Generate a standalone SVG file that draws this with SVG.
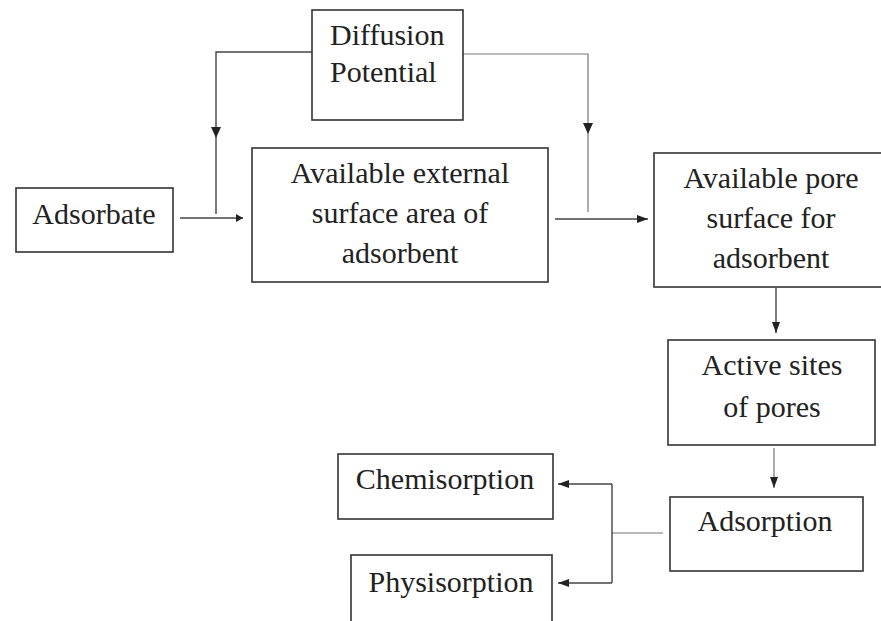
<svg xmlns="http://www.w3.org/2000/svg" width="881" height="621" viewBox="0 0 881 621">
<defs>
<style>
.box{fill:#fff;stroke:#333;stroke-width:1.6}
.c{fill:none;stroke:#444;stroke-width:1.4}
.cl{fill:none;stroke:#777;stroke-width:1.2}
.ah{fill:#222}
</style>
<marker id="a" markerUnits="userSpaceOnUse" markerWidth="12" markerHeight="10" refX="11" refY="5" orient="auto">
<path d="M0,1 L11,5 L0,9 z" fill="#222"/>
</marker>
<marker id="s" markerUnits="userSpaceOnUse" markerWidth="8" markerHeight="10" refX="7" refY="5" orient="auto">
<path d="M0,1 L7,5 L0,9 z" fill="#222"/>
</marker>
</defs>
<rect width="881" height="621" fill="#fff"/>
<g id="connectors">
<path class="c" d="M312,52 H216 V214"/>
<path class="ah" d="M211,127 L221,127 L216,138 z"/>
<path class="cl" d="M463,54 H588 V212"/>
<path class="ah" d="M583,123 L593,123 L588,134 z"/>
<path class="c" d="M180,218 H243" marker-end="url(#s)"/>
<path class="c" d="M555,219 H648" marker-end="url(#a)"/>
<path class="c" d="M776,288 V333" marker-end="url(#a)"/>
<path class="cl" d="M774,448 V488" marker-end="url(#a)"/>
<path class="cl" d="M663,533 H612"/>
<path class="c" d="M612,484 V583"/>
<path class="c" d="M612,484 H558" marker-end="url(#a)"/>
<path class="c" d="M612,583 H558" marker-end="url(#a)"/>
</g>
<g id="diffusion">
<rect class="box" x="312" y="10" width="151" height="110"/>
<text x="330" y="45" font-family="Liberation Serif" font-size="30" fill="#222">Diffusion</text>
<text x="330" y="82" font-family="Liberation Serif" font-size="30" fill="#222">Potential</text>
</g>
<g id="adsorbate">
<rect class="box" x="16" y="188" width="157" height="64"/>
<text x="94" y="224" text-anchor="middle" font-family="Liberation Serif" font-size="30" fill="#222">Adsorbate</text>
</g>
<g id="external">
<rect class="box" x="252" y="148" width="296" height="134"/>
<text x="400" y="183" text-anchor="middle" font-family="Liberation Serif" font-size="30" fill="#222">Available external</text>
<text x="400" y="223" text-anchor="middle" font-family="Liberation Serif" font-size="30" fill="#222">surface area of</text>
<text x="400" y="263" text-anchor="middle" font-family="Liberation Serif" font-size="30" fill="#222">adsorbent</text>
</g>
<g id="pore">
<rect class="box" x="654" y="153" width="240" height="134"/>
<text x="771" y="188" text-anchor="middle" font-family="Liberation Serif" font-size="30" fill="#222">Available pore</text>
<text x="771" y="228" text-anchor="middle" font-family="Liberation Serif" font-size="30" fill="#222">surface for</text>
<text x="771" y="268" text-anchor="middle" font-family="Liberation Serif" font-size="30" fill="#222">adsorbent</text>
</g>
<g id="active">
<rect class="box" x="668" y="340" width="207" height="105"/>
<text x="772" y="375" text-anchor="middle" font-family="Liberation Serif" font-size="30" fill="#222">Active sites</text>
<text x="772" y="417" text-anchor="middle" font-family="Liberation Serif" font-size="30" fill="#222">of pores</text>
</g>
<g id="adsorption">
<rect class="box" x="670" y="497" width="193" height="74"/>
<text x="765" y="531" text-anchor="middle" font-family="Liberation Serif" font-size="30" fill="#222">Adsorption</text>
</g>
<g id="chemisorption">
<rect class="box" x="338" y="454" width="215" height="65"/>
<text x="445" y="489" text-anchor="middle" font-family="Liberation Serif" font-size="30" fill="#222">Chemisorption</text>
</g>
<g id="physisorption">
<rect class="box" x="351" y="555" width="201" height="80"/>
<text x="451" y="592" text-anchor="middle" font-family="Liberation Serif" font-size="30" fill="#222">Physisorption</text>
</g>
</svg>
